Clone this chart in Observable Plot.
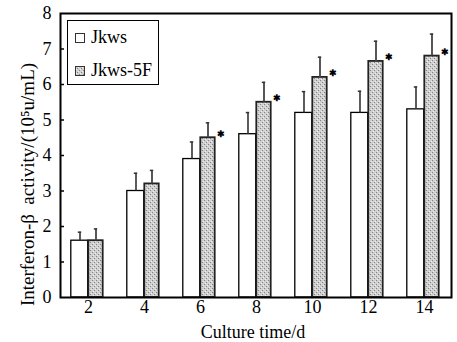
<!DOCTYPE html>
<html><head><meta charset="utf-8">
<script src="https://cdn.jsdelivr.net/npm/d3@7"></script>
<script src="https://cdn.jsdelivr.net/npm/@observablehq/plot@0.6"></script>
<style>
body{margin:0;background:#fff;}
#wrap{position:relative;width:457px;height:342px;font-family:"Liberation Serif","Times New Roman",serif;}
#wrap svg text{font-family:"Liberation Serif","Times New Roman",serif !important;}
#legend{position:absolute;left:67px;top:20px;width:90px;height:63px;border:1.5px solid #000;background:#fff;}
#legend .sw{position:absolute;left:7px;width:10px;height:10px;}
#legend .lb{position:absolute;left:23px;font-size:18px;line-height:18px;white-space:nowrap;color:#000;}
</style></head>
<body>
<svg width="0" height="0" style="position:absolute"><defs>
<pattern id="stipple" width="4" height="4" patternUnits="userSpaceOnUse">
<rect width="4" height="4" fill="#cfcfcf"/>
<rect x="0" y="0" width="1" height="1" fill="#858585"/>
<rect x="2" y="2" width="1" height="1" fill="#858585"/>
<rect x="1" y="3" width="1" height="1" fill="#f0f0f0"/>
<rect x="3" y="1" width="1" height="1" fill="#f0f0f0"/>
</pattern></defs></svg>
<div id="wrap"></div>
<script>
const days = [2, 4, 6, 8, 10, 12, 14];
const jkws = [1.6, 3.0, 3.9, 4.6, 5.2, 5.2, 5.3];
const jkwsErr = [0.24, 0.5, 0.48, 0.61, 0.6, 0.61, 0.63];
const jkws5F = [1.6, 3.2, 4.5, 5.5, 6.2, 6.65, 6.8];
const jkws5FErr = [0.33, 0.38, 0.42, 0.56, 0.57, 0.57, 0.62];
const starDays = [6, 8, 10, 12, 14];
const yTicks = [0, 1, 2, 3, 4, 5, 6, 7, 8];
const seriesNames = ["Jkws", "Jkws-5F"];
const xLabel = "Culture time/d";
const yLabel = "Interferon-β  activity/(10⁵u/mL)";

const jRows = days.map((d, i) => ({day: d, value: jkws[i], hi: jkws[i] + jkwsErr[i]}));
const fRows = days.map((d, i) => ({day: d, value: jkws5F[i], hi: jkws5F[i] + jkws5FErr[i]}));
const starRows = fRows.filter(r => starDays.includes(r.day));

const chart = Plot.plot({
  width: 457, height: 342,
  marginTop: 13, marginBottom: 45, marginLeft: 60, marginRight: 6,
  style: {fontFamily: '"Liberation Serif","Times New Roman",serif', fontSize: "18px", color: "#000", background: "#fff"},
  x: {type: "band", domain: days, range: [58, 454], padding: 0, tickSize: 0, tickPadding: 3, label: null},
  y: {domain: [0, 8], ticks: yTicks, tickSize: 0, tickPadding: 9, label: null},
  marks: [
    Plot.barY(jRows, {x: "day", y: "value", fill: "white", stroke: "black", strokeWidth: 1.3, insetLeft: 10.8, insetRight: 28.3}),
    Plot.barY(fRows, {x: "day", y: "value", fill: "url(#stipple)", stroke: "#222", strokeWidth: 1.8, insetLeft: 28.3, insetRight: 13.3}),
    Plot.ruleX(jRows, {x: "day", y1: "value", y2: "hi", dx: -8.5, stroke: "#333", strokeWidth: 1.6}),
    Plot.ruleX(fRows, {x: "day", y1: "value", y2: "hi", dx: 7.5, stroke: "#444", strokeWidth: 1.8}),
    Plot.tickY(jRows, {x: "day", y: "hi", insetLeft: 17.8, insetRight: 34.8, stroke: "#333", strokeWidth: 1.5}),
    Plot.tickY(fRows, {x: "day", y: "hi", insetLeft: 33.8, insetRight: 18.8, stroke: "#333", strokeWidth: 1.5}),
    Plot.text(starRows, {x: "day", y: "value", text: () => "✱", dx: 20, dy: -4, fontSize: 9, fontWeight: "bold", fill: "black"}),
    Plot.tickY(yTicks.slice(1, 8), {y: d => d, insetRight: 387, stroke: "black", strokeWidth: 1.5}),
    Plot.frame({stroke: "black", strokeWidth: 2}),
    Plot.text([xLabel], {frameAnchor: "bottom", text: d => d, dx: -3, dy: 40, fontSize: 18}),
    Plot.text([yLabel], {frameAnchor: "left", textAnchor: "middle", text: d => d, rotate: -90, dx: -33, dy: 29, fontSize: 19})
  ]
});
const wrap = document.getElementById("wrap");
wrap.appendChild(chart);

const legend = document.createElement("div");
legend.id = "legend";
const fills = ["#fff", "url(#stipple)"];
const swTops = [12, 45];
const lbTops = [7, 40];
seriesNames.forEach((name, i) => {
  const sw = document.createElementNS("http://www.w3.org/2000/svg", "svg");
  sw.setAttribute("class", "sw");
  sw.setAttribute("width", "10"); sw.setAttribute("height", "10");
  sw.style.top = swTops[i] + "px";
  sw.innerHTML = `<rect x="0.5" y="0.5" width="9" height="9" fill="${fills[i]}" stroke="#333" stroke-width="1"/>`;
  legend.appendChild(sw);
  const lb = document.createElement("span");
  lb.className = "lb";
  lb.style.top = lbTops[i] + "px";
  lb.textContent = name;
  legend.appendChild(lb);
});
wrap.appendChild(legend);
</script>
</body></html>
